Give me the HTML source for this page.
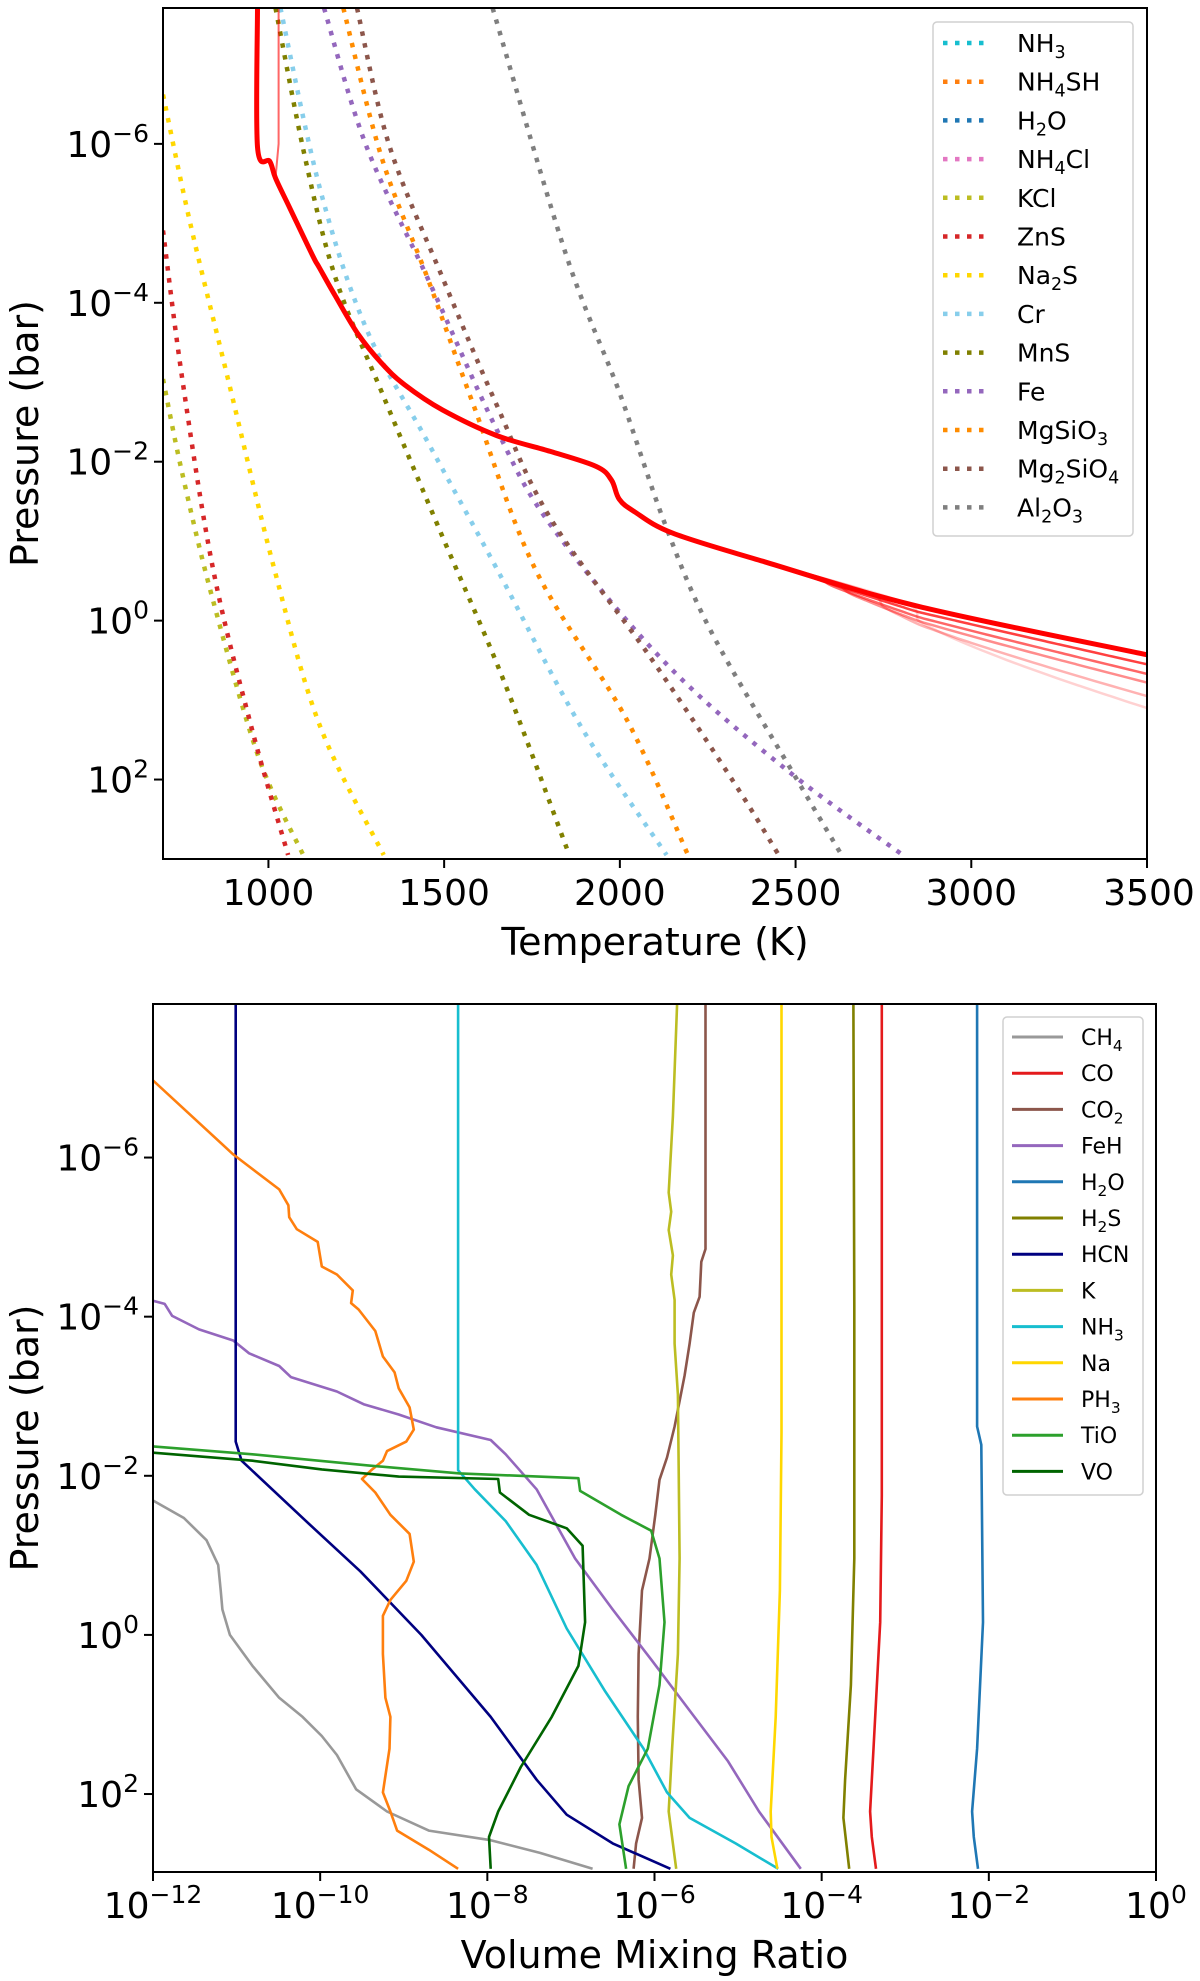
<!DOCTYPE html>
<html><head><meta charset="utf-8">
<style>
html,body{margin:0;padding:0;background:#fff;}
svg{display:block;font-family:"DejaVu Sans","Liberation Sans",sans-serif;}
</style></head>
<body>
<svg id="fig" width="1200" height="1981" viewBox="0 0 1200 1981" xmlns="http://www.w3.org/2000/svg">
<rect width="1200" height="1981" fill="#fff"/>
<g id="top"></g>
<g id="bot"></g>
</svg>
<script>
// ---------- TOP CHART DATA (T in K, log10 P in bar) ----------
const condNames = ["NH3","NH4SH","H2O","NH4Cl","KCl","ZnS","Na2S","Cr","MnS","Fe","MgSiO3","Mg2SiO4","Al2O3"];
const condLabels = ["NH<tspan font-size='70%' dy='6'>3</tspan>","NH<tspan font-size='70%' dy='6'>4</tspan><tspan dy='-6'>SH</tspan>","H<tspan font-size='70%' dy='6'>2</tspan><tspan dy='-6'>O</tspan>","NH<tspan font-size='70%' dy='6'>4</tspan><tspan dy='-6'>Cl</tspan>","KCl","ZnS","Na<tspan font-size='70%' dy='6'>2</tspan><tspan dy='-6'>S</tspan>","Cr","MnS","Fe","MgSiO<tspan font-size='70%' dy='6'>3</tspan>","Mg<tspan font-size='70%' dy='6'>2</tspan><tspan dy='-6'>SiO</tspan><tspan font-size='70%' dy='6'>4</tspan>","Al<tspan font-size='70%' dy='6'>2</tspan><tspan dy='-6'>O</tspan><tspan font-size='70%' dy='6'>3</tspan>"];
const condColors = ["#17becf","#ff7f0e","#1f77b4","#e377c2","#bcbd22","#d62728","#ffd700","#87ceeb","#808000","#9467bd","#ff8c00","#8c564b","#7f7f7f"];
const kclT = [700,755,842,973,1099];
const kclP = [-3.04,-1.85,-0.26,1.73,2.95];
const znsT = [700,755,842,951,1056];
const znsP = [-4.91,-3.04,-0.66,1.33,2.95];
const na2sT = [700,776,885,1016,1147,1328];
const na2sP = [-6.62,-5.03,-3.04,-0.66,1.33,2.95];
const crT = [1034,1147,1278,1453,1649,1889,2133];
const crP = [-7.71,-5.43,-3.68,-2.25,-0.66,1.33,2.95];
const mnsT = [1020,1104,1191,1322,1496,1671,1856];
const mnsP = [-7.71,-5.83,-4.31,-2.88,-1.05,0.77,2.95];
const feT = [1158,1278,1453,1649,1802,2129,2478,2805];
const feP = [-7.71,-5.98,-4.31,-2.41,-1.21,0.53,1.89,2.95];
const mgsio3T = [1213,1322,1453,1583,1758,2020,2194];
const mgsio3P = [-7.71,-5.83,-4.31,-2.72,-0.66,1.25,2.95];
const mg2sio4T = [1252,1344,1496,1649,1802,2085,2325,2452];
const mg2sio4P = [-7.71,-5.98,-4.31,-2.72,-1.29,0.45,2.04,2.95];
const al2o3T = [1638,1845,1998,2129,2260,2500,2631];
const al2o3P = [-7.71,-4.63,-2.88,-1.21,0.14,1.97,2.95];
const profT = [969,969,1004,1020,1060,1125,1145,1191,1256,1322,1387,1496,1649,1802,1933,1976,1998,2042,2151,2412,2849,3500];
const profP = [-7.71,-5.96,-5.78,-5.57,-5.2,-4.6,-4.44,-4.08,-3.60,-3.24,-2.97,-2.65,-2.33,-2.13,-1.94,-1.77,-1.53,-1.37,-1.10,-0.74,-0.18,0.43];
const fanEndP = [0.55,0.67,0.78,0.95,1.10];
const fanBranchT = [2500,2550,2600,2700,2800];
const fanAlpha = [0.75,0.6,0.45,0.3,0.18];
const topXTicks = [1000,1500,2000,2500,3000,3500];
const topYTicks = [-6,-4,-2,0,2];

// ---------- BOTTOM CHART DATA (log10 VMR, log10 P) ----------
const specNames = ["CH4","CO","CO2","FeH","H2O","H2S","HCN","K","NH3","Na","PH3","TiO","VO"];
const specLabels = ["CH<tspan font-size='70%' dy='6'>4</tspan>","CO","CO<tspan font-size='70%' dy='6'>2</tspan>","FeH","H<tspan font-size='70%' dy='6'>2</tspan><tspan dy='-6'>O</tspan>","H<tspan font-size='70%' dy='6'>2</tspan><tspan dy='-6'>S</tspan>","HCN","K","NH<tspan font-size='70%' dy='6'>3</tspan>","Na","PH<tspan font-size='70%' dy='6'>3</tspan>","TiO","VO"];
const specColors = ["#999999","#e41a1c","#8c564b","#9467bd","#1f77b4","#808000","#000080","#bcbd22","#17becf","#ffd700","#ff7f0e","#2ca02c","#006400"];
const ch4X = [-12,-11.63,-11.36,-11.22,-11.19,-11.17,-11.08,-10.81,-10.49,-10.21,-9.98,-9.80,-9.57,-9.20,-8.70,-7.96,-7.37,-6.74];
const ch4P = [-1.69,-1.47,-1.19,-0.88,-0.56,-0.32,0.00,0.39,0.79,1.03,1.27,1.51,1.94,2.22,2.46,2.58,2.74,2.94];
const coX = [-3.28,-3.28,-3.30,-3.38,-3.42,-3.40,-3.35];
const coP = [-7.93,-1.75,-0.16,1.43,2.22,2.54,2.94];
const co2X = [-5.39,-5.39,-5.44,-5.46,-5.53,-5.58,-5.64,-5.76,-5.85,-5.94,-5.99,-6.06,-6.15,-6.19,-6.20,-6.19,-6.15,-6.22,-6.25];
const co2P = [-7.93,-4.85,-4.69,-4.25,-4.05,-3.66,-3.26,-2.62,-2.23,-1.95,-1.51,-0.96,-0.56,0.24,1.03,1.82,2.30,2.62,2.94];
const fehX = [-12,-11.86,-11.77,-11.45,-11.04,-10.85,-10.49,-10.35,-9.80,-9.48,-9.06,-8.61,-7.96,-7.78,-7.41,-6.95,-6.50,-6.04,-5.58,-5.12,-4.75,-4.25];
const fehP = [-4.20,-4.16,-4.01,-3.84,-3.70,-3.54,-3.38,-3.24,-3.06,-2.90,-2.77,-2.61,-2.45,-2.27,-1.83,-0.96,-0.32,0.31,0.95,1.59,2.22,2.94];
const h2oX = [-2.14,-2.14,-2.09,-2.07,-2.14,-2.20,-2.18,-2.13];
const h2oP = [-7.93,-2.62,-2.39,-0.16,1.43,2.22,2.54,2.94];
const h2sX = [-3.62,-3.61,-3.61,-3.65,-3.72,-3.74,-3.67];
const h2sP = [-7.93,-4.13,-0.96,0.63,1.82,2.30,2.94];
const hcnX = [-11.01,-11.01,-10.94,-10.17,-9.52,-8.79,-7.96,-7.41,-7.05,-6.50,-5.81];
const hcnP = [-7.93,-2.43,-2.19,-1.43,-0.80,0.00,1.03,1.82,2.26,2.62,2.94];
const kX = [-5.73,-5.78,-5.83,-5.80,-5.83,-5.78,-5.80,-5.76,-5.76,-5.72,-5.71,-5.70,-5.72,-5.79,-5.83,-5.74];
const kP = [-7.93,-6.52,-5.56,-5.32,-5.09,-4.77,-4.53,-4.21,-3.66,-3.02,-2.07,-0.96,0.24,1.43,2.22,2.94];
const nh3X = [-8.35,-8.35,-8.15,-7.78,-7.41,-7.05,-6.59,-6.13,-5.85,-5.58,-5.03,-4.52];
const nh3P = [-7.93,-2.07,-1.83,-1.43,-0.88,-0.08,0.71,1.43,1.98,2.30,2.62,2.94];
const naX = [-4.48,-4.48,-4.50,-4.55,-4.61,-4.60,-4.53];
const naP = [-7.93,-2.54,-0.56,1.03,2.22,2.54,2.94];
const ph3X = [-12,-11.04,-10.49,-10.38,-10.37,-10.28,-10.03,-9.98,-9.80,-9.61,-9.63,-9.54,-9.34,-9.25,-9.11,-9.06,-8.93,-8.88,-8.97,-9.20,-9.25,-9.39,-9.50,-9.34,-9.16,-8.93,-8.88,-8.97,-9.16,-9.25,-9.25,-9.22,-9.16,-9.17,-9.25,-9.16,-9.08,-8.70,-8.35];
const ph3P = [-6.97,-6.04,-5.60,-5.40,-5.25,-5.10,-4.94,-4.63,-4.53,-4.33,-4.17,-4.09,-3.82,-3.50,-3.30,-3.10,-2.86,-2.58,-2.43,-2.31,-2.19,-2.07,-1.96,-1.79,-1.51,-1.27,-0.92,-0.68,-0.44,-0.24,0.24,0.79,1.03,1.43,1.98,2.22,2.46,2.70,2.94];
const tioX = [-12,-10.81,-9.43,-8.33,-6.91,-6.89,-6.40,-6.04,-5.94,-5.88,-5.94,-6.08,-6.31,-6.42,-6.34];
const tioP = [-2.37,-2.27,-2.13,-2.03,-1.97,-1.81,-1.51,-1.31,-0.96,-0.16,0.63,1.43,1.90,2.38,2.94];
const voX = [-12,-10.81,-9.98,-9.06,-7.87,-7.85,-7.50,-7.05,-6.86,-6.83,-6.91,-7.23,-7.60,-7.87,-7.98,-7.96];
const voP = [-2.29,-2.19,-2.08,-1.99,-1.96,-1.79,-1.51,-1.34,-1.12,-0.16,0.39,1.03,1.66,2.22,2.54,2.94];
const botXTicks = [-12,-10,-8,-6,-4,-2,0];
const botYTicks = [-6,-4,-2,0,2];

// ---------- helpers ----------
const NS = "http://www.w3.org/2000/svg";
function mk(tag, attrs, parent){ const e=document.createElementNS(NS,tag); for(const k in attrs) e.setAttribute(k,attrs[k]); parent.appendChild(e); return e; }
function linScale(d0,d1,r0,r1){ return v=>r0+(v-d0)*(r1-r0)/(d1-d0); }
function smoothPath(pts){
  let d="M"+pts[0][0].toFixed(1)+","+pts[0][1].toFixed(1);
  for(let i=0;i<pts.length-1;i++){
    const p0=pts[Math.max(0,i-1)],p1=pts[i],p2=pts[i+1],p3=pts[Math.min(pts.length-1,i+2)];
    const c1=[p1[0]+(p2[0]-p0[0])/6,p1[1]+(p2[1]-p0[1])/6], c2=[p2[0]-(p3[0]-p1[0])/6,p2[1]-(p3[1]-p1[1])/6];
    d+="C"+c1[0].toFixed(1)+","+c1[1].toFixed(1)+" "+c2[0].toFixed(1)+","+c2[1].toFixed(1)+" "+p2[0].toFixed(1)+","+p2[1].toFixed(1);
  }
  return d;
}
function polyPath(pts){ return "M"+pts.map(p=>p[0].toFixed(1)+","+p[1].toFixed(1)).join("L"); }
function powLabel(g,x,y,exp,anchor,name){
  const t=mk("text",{x:x,y:y,"font-size":36,"text-anchor":anchor,fill:"#000"},g);
  
  
  t.innerHTML="10<tspan font-size='25' dy='-15'>"+(exp<0?"\u2212"+(-exp):exp)+"</tspan>";
  return t;
}

// ---------- TOP CHART ----------
(function(){
  const g=document.getElementById("top");
  const L=163,R=1147,T=8,B=859;
  const sx=linScale(700,3500,L,R), sy=linScale(-7.71,3.0,T,B);
  const clip=mk("clipPath",{id:"clipTop"},g); mk("rect",{x:L,y:T,width:R-L,height:B-T},clip);
  const plot=mk("g",{"clip-path":"url(#clipTop)"},g);
  
  
  const series=[[null,null],[null,null],[null,null],[null,null],[kclT,kclP],[znsT,znsP],[na2sT,na2sP],[crT,crP],[mnsT,mnsP],[feT,feP],[mgsio3T,mgsio3P],[mg2sio4T,mg2sio4P],[al2o3T,al2o3P]];
  series.forEach((s,i)=>{
    if(!s[0]) return;
    const pts=s[0].map((t,j)=>[sx(t),sy(s[1][j])]);
    const p=mk("path",{d:smoothPath(pts),fill:"none",stroke:condColors[i],"stroke-width":4.5,"stroke-dasharray":"4.5 7.5"},plot);
    
    
  });
  const mainEnd=profP[profP.length-1];
  fanEndP.forEach((e,k)=>{
    const base=[];
    profT.forEach((t,j)=>{ if(t<fanBranchT[k]) base.push([sx(t),sy(profP[j])]); });
    const dense=[];
    for(let t=fanBranchT[k];t<=3500;t+=50){
      let j=profT.findIndex(v=>v>=t); if(j<1) j=1;
      const f=(t-profT[j-1])/(profT[j]-profT[j-1]);
      let lp=profP[j-1]+f*(profP[j]-profP[j-1]);
      const u=(t-fanBranchT[k])/(3500-fanBranchT[k]); lp+=(e-mainEnd)*Math.sqrt(u);
      dense.push([sx(t),sy(lp)]);
    }
    const p=mk("path",{d:smoothPath(base.concat(dense)),fill:"none",stroke:"#ff0000","stroke-opacity":fanAlpha[k],"stroke-width":2.5},plot);
    
    
  });
  const fb=mk("path",{d:polyPath([[sx(1029),sy(-7.71)],[sx(1029),sy(-6.0)],[sx(1020),sy(-5.57)]]),fill:"none",stroke:"#ff0000","stroke-opacity":0.6,"stroke-width":2},plot);
  
  
  const main=mk("path",{d:smoothPath(profT.map((t,j)=>[sx(t),sy(profP[j])])),fill:"none",stroke:"#ff0000","stroke-width":5,"stroke-linejoin":"round"},plot);
  
  
  const fr=mk("rect",{x:L,y:T,width:R-L,height:B-T,fill:"none",stroke:"#000","stroke-width":2},g);
  
  
  topXTicks.forEach(v=>{
    const x=sx(v);
    const tk=mk("line",{x1:x,y1:B,x2:x,y2:B+9,stroke:"#000","stroke-width":2},g);
    
    
    const t=mk("text",{x:v===3500?x+2:x,y:B+46,"font-size":36,"text-anchor":"middle"},g);
    
    
    t.textContent=v;
  });
  topYTicks.forEach(v=>{
    const y=sy(v);
    const tk=mk("line",{x1:L-9,y1:y,x2:L,y2:y,stroke:"#000","stroke-width":2},g);
    
    
    powLabel(g,L-14,y+13,v,"end",'y-tick-label');
  });
  const xl=mk("text",{x:(L+R)/2,y:955,"font-size":38,"text-anchor":"middle"},g);
  
  
  xl.textContent="Temperature (K)";
  const yl=mk("text",{x:0,y:0,"font-size":38,"text-anchor":"middle",transform:"translate(38,"+((T+B)/2)+") rotate(-90)"},g);
  
  
  yl.textContent="Pressure (bar)";
  const lg=mk("g",{},g);
  
  
  mk("rect",{x:933,y:22,width:200,height:514,rx:4,fill:"#fff","fill-opacity":0.8,stroke:"#d0d0d0","stroke-width":1.5},lg);
  condNames.forEach((n,i)=>{
    const y=43+i*38.7;
    const e=mk("g",{},lg);
    
    
    mk("line",{x1:943,y1:y,x2:990,y2:y,stroke:condColors[i],"stroke-width":4.5,"stroke-dasharray":"4.5 7.5"},e);
    const t=mk("text",{x:1017,y:y+9,"font-size":25},e);
    t.innerHTML=condLabels[i];
  });
})();

// ---------- BOTTOM CHART ----------
(function(){
  const g=document.getElementById("bot");
  const L=153,R=1156,T=1004,B=1872;
  const sx=linScale(-12,0,L,R), sy=linScale(-7.93,2.98,T,B);
  const clip=mk("clipPath",{id:"clipBot"},g); mk("rect",{x:L,y:T,width:R-L,height:B-T},clip);
  const plot=mk("g",{"clip-path":"url(#clipBot)"},g);
  
  
  const series=[[ch4X,ch4P],[coX,coP],[co2X,co2P],[fehX,fehP],[h2oX,h2oP],[h2sX,h2sP],[hcnX,hcnP],[kX,kP],[nh3X,nh3P],[naX,naP],[ph3X,ph3P],[tioX,tioP],[voX,voP]];
  series.forEach((s,i)=>{
    const pts=s[0].map((x,j)=>[sx(x),sy(s[1][j])]);
    const p=mk("path",{d:polyPath(pts),fill:"none",stroke:specColors[i],"stroke-width":2.6,"stroke-linejoin":"round"},plot);
    
    
  });
  const fr=mk("rect",{x:L,y:T,width:R-L,height:B-T,fill:"none",stroke:"#000","stroke-width":2},g);
  
  
  botXTicks.forEach(v=>{
    const x=sx(v);
    const tk=mk("line",{x1:x,y1:B,x2:x,y2:B+9,stroke:"#000","stroke-width":2},g);
    
    
    powLabel(g,x,B+46,v,"middle",'x-tick-label');
  });
  botYTicks.forEach(v=>{
    const y=sy(v);
    const tk=mk("line",{x1:L-9,y1:y,x2:L,y2:y,stroke:"#000","stroke-width":2},g);
    
    
    powLabel(g,L-14,y+13,v,"end",'y-tick-label');
  });
  const xl=mk("text",{x:(L+R)/2,y:1968,"font-size":38,"text-anchor":"middle"},g);
  
  
  xl.textContent="Volume Mixing Ratio";
  const yl=mk("text",{x:0,y:0,"font-size":38,"text-anchor":"middle",transform:"translate(38,"+((T+B)/2)+") rotate(-90)"},g);
  
  
  yl.textContent="Pressure (bar)";
  const lg=mk("g",{},g);
  
  
  mk("rect",{x:1003,y:1017,width:140,height:478,rx:4,fill:"#fff","fill-opacity":0.8,stroke:"#d0d0d0","stroke-width":1.5},lg);
  specNames.forEach((n,i)=>{
    const y=1037+i*36.2;
    const e=mk("g",{},lg);
    
    
    mk("line",{x1:1012,y1:y,x2:1063,y2:y,stroke:specColors[i],"stroke-width":3},e);
    const t=mk("text",{x:1081,y:y+8,"font-size":22},e);
    t.innerHTML=specLabels[i];
  });
})();
</script>
</body></html>
